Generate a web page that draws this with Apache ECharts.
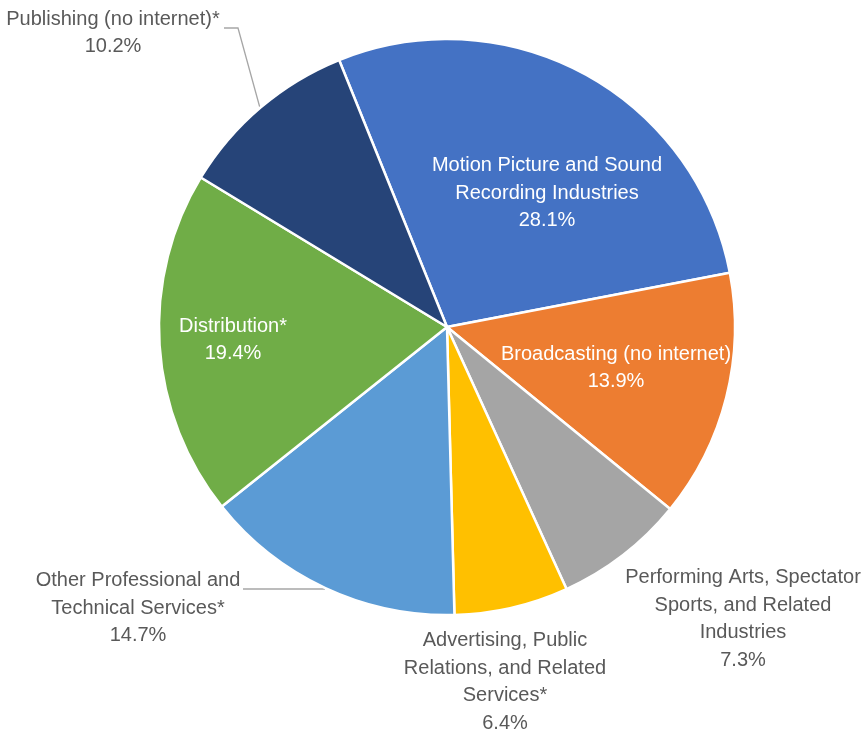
<!DOCTYPE html>
<html>
<head>
<meta charset="utf-8">
<script src="https://cdn.jsdelivr.net/npm/echarts@6/dist/echarts.min.js"></script>
<style>
  html, body { margin: 0; padding: 0; background: #ffffff; }
  #chart { width: 861px; height: 736px; }
</style>
</head>
<body>
<div id="chart"></div>
<script>
// Industry shares, clockwise from the top
const categories = [
  'Motion Picture and Sound\nRecording Industries',
  'Broadcasting (no internet)',
  'Performing Arts, Spectator\nSports, and Related\nIndustries',
  'Advertising, Public\nRelations, and Related\nServices*',
  'Other Professional and\nTechnical Services*',
  'Distribution*',
  'Publishing (no internet)*'
];
const shares = [28.1, 13.9, 7.3, 6.4, 14.7, 19.4, 10.2];
const colors = ['#4472C4', '#ED7D31', '#A5A5A5', '#FFC000', '#5B9BD5', '#70AD47', '#264478'];

// Label placement: [centre x, centre y, inside?]
const labelSpots = [
  [547, 193, true],
  [616, 368, true],
  [743, 619, false],
  [505, 682, false],
  [138, 608, false],
  [233, 340, true],
  [113, 33, false]
];

const FONT = '"Liberation Sans Narrow", "Arial Narrow", "Liberation Sans", sans-serif';

const chart = echarts.init(document.getElementById('chart'), null, { renderer: 'canvas' });

const data = categories.map((name, i) => ({
  name: name,
  value: shares[i],
  itemStyle: { color: colors[i] },
  label: {
    color: labelSpots[i][2] ? '#ffffff' : '#595959'
  },
  labelLine: {
    show: i === 4 || i === 6
  }
}));

chart.setOption({
  backgroundColor: '#ffffff',
  animation: false,
  series: [{
    type: 'pie',
    center: [447, 327],
    radius: [0, 288],
    startAngle: 112,
    clockwise: true,
    avoidLabelOverlap: false,
    itemStyle: { borderColor: '#ffffff', borderWidth: 2.5 },
    label: {
      show: true,
      position: 'outside',
      fontFamily: FONT,
      fontSize: 20,
      lineHeight: 27.5,
      align: 'center',
      formatter: p => p.name + '\n' + p.value.toFixed(1) + '%'
    },
    labelLine: {
      lineStyle: { color: '#A6A6A6', width: 1.3 }
    },
    labelLayout: function (params) {
      const s = labelSpots[params.dataIndex];
      const out = { x: s[0], y: s[1], align: 'center', verticalAlign: 'middle' };
      if (params.dataIndex === 6) {
        out.labelLinePoints = [[260, 108], [238, 28], [224, 28]];
      } else if (params.dataIndex === 4) {
        out.labelLinePoints = [[325, 589], [284, 589], [243, 589]];
      }
      return out;
    },
    data: data
  }]
});
</script>
</body>
</html>
